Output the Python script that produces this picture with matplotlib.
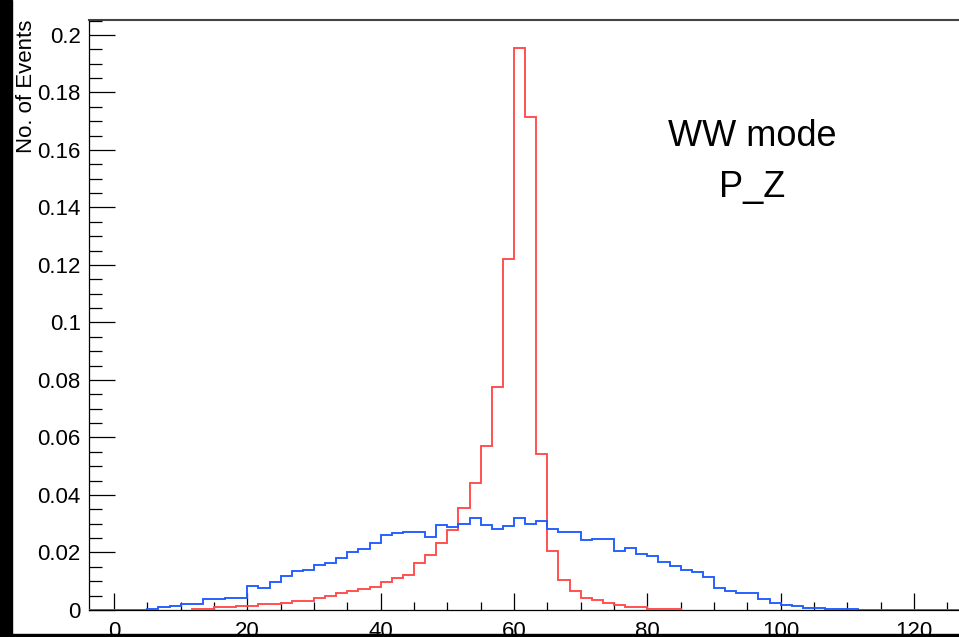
import matplotlib
matplotlib.use("Agg")
import matplotlib.pyplot as plt
import numpy as np
from matplotlib.ticker import MultipleLocator, FuncFormatter
from matplotlib.patches import Rectangle

plt.rcParams['font.family'] = ['Liberation Sans', 'DejaVu Sans']

# binning of both histograms
hist_lo = -5.0
bin_width = 5.0 / 3.0

# WW mode, blue histogram (bins from -5 upward)
blue_vals = [0, 0, 0, 0, 0, 0,
             0.0003, 0.0009, 0.0015, 0.0021, 0.0021, 0.0038, 0.0038, 0.0043, 0.0043,
             0.0085, 0.0075, 0.0096, 0.0117, 0.0136, 0.0140, 0.0157, 0.0163, 0.0180,
             0.0201, 0.0211, 0.0233, 0.0262, 0.0268, 0.0271, 0.0271, 0.0255, 0.0295,
             0.0289, 0.0299, 0.0319, 0.0295, 0.0282, 0.0293, 0.0319, 0.0299, 0.0308,
             0.0282, 0.0270, 0.0270, 0.0245, 0.0248, 0.0248, 0.0206, 0.0215, 0.0195,
             0.0189, 0.0168, 0.0152, 0.0140, 0.0131, 0.0114, 0.0075, 0.0066, 0.0060,
             0.0060, 0.0037, 0.0024, 0.0018, 0.0013, 0.0007, 0.0007, 0.0002, 0.0002,
             0.0002, 0, 0, 0, 0, 0, 0, 0, 0, 0, 0, 0, 0, 0]

# red histogram, non-empty bins starting at 11.67
red_first_bin = 10
red_vals = [0.0005, 0.0005, 0.0010, 0.0010, 0.0015, 0.0015, 0.0021, 0.0021, 0.0023,
            0.0032, 0.0032, 0.0042, 0.0047, 0.0059, 0.0065, 0.0074, 0.0080, 0.0097,
            0.0112, 0.0123, 0.0162, 0.0192, 0.0232, 0.0277, 0.0355, 0.0441, 0.0571,
            0.0777, 0.1221, 0.1955, 0.1716, 0.0543, 0.0206, 0.0103, 0.0066, 0.0043,
            0.0034, 0.0023, 0.0016, 0.0009, 0.0009, 0.0004, 0.0004, 0.0004]

x_ticks = [0, 20, 40, 60, 80, 100, 120]
y_ticks = [0, 0.02, 0.04, 0.06, 0.08, 0.1, 0.12, 0.14, 0.16, 0.18, 0.2]
y_label = "No. of Events"
title_lines = ["WW mode", "P_Z"]

W, H = 959, 637
fig = plt.figure(figsize=(W / 100, H / 100), dpi=100)
ax = fig.add_axes([89 / W, 27 / H, 1 - 89 / W, 590 / H])

blue_edges = hist_lo + bin_width * np.arange(len(blue_vals) + 1)
red_edges = hist_lo + bin_width * (red_first_bin + np.arange(len(red_vals) + 1))

ax.stairs(red_vals, red_edges, color='#ff4a4a', lw=1.35, zorder=3)
ax.stairs(blue_vals, blue_edges, color='#1f5cff', lw=1.35, zorder=4)

ax.set_xlim(-3.75, 126.75)
ax.set_ylim(0, 0.2052)

ax.set_xticks(x_ticks)
ax.set_yticks(y_ticks)
ax.xaxis.set_minor_locator(MultipleLocator(5))
ax.yaxis.set_minor_locator(MultipleLocator(0.005))
ax.yaxis.set_major_formatter(FuncFormatter(lambda v, p: '%g' % v))

ax.tick_params(axis='x', which='major', direction='in', length=12, width=0.9,
               labelsize=16, pad=8, top=False)
ax.tick_params(axis='x', which='minor', direction='in', length=6, width=0.9, top=False)
ax.tick_params(axis='y', which='major', direction='in', length=19, width=0.9,
               labelsize=16, pad=6, right=False)
ax.tick_params(axis='y', which='minor', direction='in', length=9, width=0.9, right=False)

ax.spines['right'].set_visible(False)
ax.spines['top'].set_color('#444444')
ax.spines['top'].set_linewidth(1.5)
ax.spines['left'].set_linewidth(0.9)
ax.spines['bottom'].set_linewidth(0.9)
for s in ax.spines.values():
    s.set_zorder(1.5)

fig.text(27 / W, 1 - 20 / H, y_label, rotation=90, ha='center', va='top', fontsize=16)
fig.text(752 / W, 1 - 137 / H, title_lines[0], ha='center', va='center', fontsize=26)
fig.text(752 / W, 1 - 187 / H, title_lines[1], ha='center', va='center', fontsize=26)

# black borders of the screenshot
fig.patches.append(Rectangle((0, 0), 12 / W, 1, transform=fig.transFigure,
                             color='black', zorder=10))
fig.patches.append(Rectangle((0, 0), 1, 3 / H, transform=fig.transFigure,
                             color='black', zorder=10))

fig.savefig("out.png", dpi=100)
